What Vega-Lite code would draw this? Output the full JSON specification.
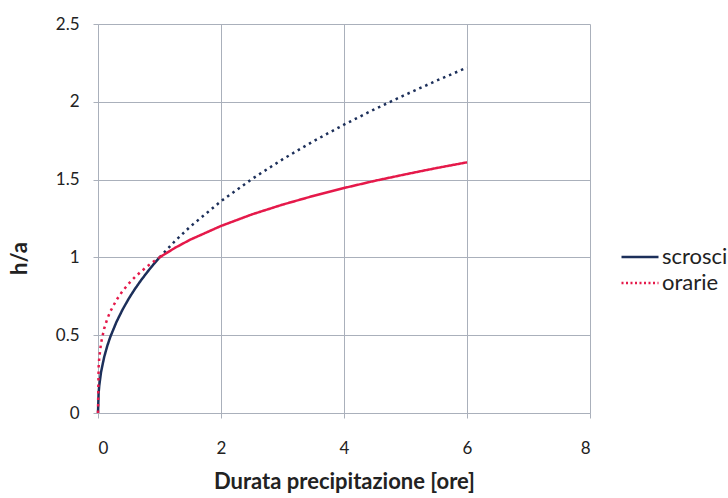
{
  "$schema": "https://vega.github.io/schema/vega-lite/v6.json",
  "width": 492,
  "height": 389,
  "autosize": {"type": "none"},
  "padding": {"left": 98, "top": 24, "right": 138, "bottom": 85},
  "background": "white",
  "config": {
    "view": {"stroke": null},
    "font": "Lato",
    "axis": {
      "gridColor": "#aab0bb",
      "gridWidth": 1,
      "domainColor": "#aab0bb",
      "tickColor": "#aab0bb",
      "tickSize": 5,
      "labelFont": "Lato",
      "labelFontSize": 17,
      "labelColor": "#222222",
      "titleFont": "Lato",
      "titleFontSize": 22,
      "titleFontWeight": "bold",
      "titleColor": "#222222"
    },
    "legend": {
      "labelFont": "Lato",
      "labelFontSize": 22,
      "labelColor": "#222222"
    }
  },
  "data": {
    "values": [
      {"t": 0, "h": 0, "serie": "scrosci", "tratto": "a"},
      {"t": 0.01, "h": 0.129, "serie": "scrosci", "tratto": "a"},
      {"t": 0.02, "h": 0.175, "serie": "scrosci", "tratto": "a"},
      {"t": 0.05, "h": 0.264, "serie": "scrosci", "tratto": "a"},
      {"t": 0.1, "h": 0.359, "serie": "scrosci", "tratto": "a"},
      {"t": 0.15, "h": 0.43, "serie": "scrosci", "tratto": "a"},
      {"t": 0.2, "h": 0.489, "serie": "scrosci", "tratto": "a"},
      {"t": 0.3, "h": 0.585, "serie": "scrosci", "tratto": "a"},
      {"t": 0.4, "h": 0.665, "serie": "scrosci", "tratto": "a"},
      {"t": 0.5, "h": 0.735, "serie": "scrosci", "tratto": "a"},
      {"t": 0.6, "h": 0.797, "serie": "scrosci", "tratto": "a"},
      {"t": 0.7, "h": 0.853, "serie": "scrosci", "tratto": "a"},
      {"t": 0.8, "h": 0.905, "serie": "scrosci", "tratto": "a"},
      {"t": 0.9, "h": 0.954, "serie": "scrosci", "tratto": "a"},
      {"t": 1, "h": 1, "serie": "scrosci", "tratto": "a"},
      {"t": 1, "h": 1, "serie": "scrosci", "tratto": "b"},
      {"t": 1.25, "h": 1.104, "serie": "scrosci", "tratto": "b"},
      {"t": 1.5, "h": 1.198, "serie": "scrosci", "tratto": "b"},
      {"t": 2, "h": 1.361, "serie": "scrosci", "tratto": "b"},
      {"t": 2.5, "h": 1.503, "serie": "scrosci", "tratto": "b"},
      {"t": 3, "h": 1.63, "serie": "scrosci", "tratto": "b"},
      {"t": 3.5, "h": 1.746, "serie": "scrosci", "tratto": "b"},
      {"t": 4, "h": 1.853, "serie": "scrosci", "tratto": "b"},
      {"t": 4.5, "h": 1.953, "serie": "scrosci", "tratto": "b"},
      {"t": 5, "h": 2.046, "serie": "scrosci", "tratto": "b"},
      {"t": 5.5, "h": 2.135, "serie": "scrosci", "tratto": "b"},
      {"t": 6, "h": 2.22, "serie": "scrosci", "tratto": "b"},
      {"t": 0, "h": 0, "serie": "orarie", "tratto": "a"},
      {"t": 0.01, "h": 0.294, "serie": "orarie", "tratto": "a"},
      {"t": 0.02, "h": 0.353, "serie": "orarie", "tratto": "a"},
      {"t": 0.05, "h": 0.451, "serie": "orarie", "tratto": "a"},
      {"t": 0.1, "h": 0.542, "serie": "orarie", "tratto": "a"},
      {"t": 0.15, "h": 0.604, "serie": "orarie", "tratto": "a"},
      {"t": 0.2, "h": 0.652, "serie": "orarie", "tratto": "a"},
      {"t": 0.3, "h": 0.726, "serie": "orarie", "tratto": "a"},
      {"t": 0.4, "h": 0.784, "serie": "orarie", "tratto": "a"},
      {"t": 0.5, "h": 0.832, "serie": "orarie", "tratto": "a"},
      {"t": 0.6, "h": 0.873, "serie": "orarie", "tratto": "a"},
      {"t": 0.7, "h": 0.909, "serie": "orarie", "tratto": "a"},
      {"t": 0.8, "h": 0.942, "serie": "orarie", "tratto": "a"},
      {"t": 0.9, "h": 0.972, "serie": "orarie", "tratto": "a"},
      {"t": 1, "h": 1, "serie": "orarie", "tratto": "a"},
      {"t": 1, "h": 1, "serie": "orarie", "tratto": "b"},
      {"t": 1.25, "h": 1.061, "serie": "orarie", "tratto": "b"},
      {"t": 1.5, "h": 1.114, "serie": "orarie", "tratto": "b"},
      {"t": 2, "h": 1.202, "serie": "orarie", "tratto": "b"},
      {"t": 2.5, "h": 1.276, "serie": "orarie", "tratto": "b"},
      {"t": 3, "h": 1.339, "serie": "orarie", "tratto": "b"},
      {"t": 3.5, "h": 1.395, "serie": "orarie", "tratto": "b"},
      {"t": 4, "h": 1.446, "serie": "orarie", "tratto": "b"},
      {"t": 4.5, "h": 1.492, "serie": "orarie", "tratto": "b"},
      {"t": 5, "h": 1.534, "serie": "orarie", "tratto": "b"},
      {"t": 5.5, "h": 1.574, "serie": "orarie", "tratto": "b"},
      {"t": 6, "h": 1.611, "serie": "orarie", "tratto": "b"}
    ]
  },
  "encoding": {
    "x": {
      "field": "t",
      "type": "quantitative",
      "scale": {"domain": [0, 8], "nice": false},
      "axis": {
        "title": "Durata precipitazione [ore]",
        "values": [0, 2, 4, 6, 8],
        "labelPadding": 22,
        "titleY": 58,
        "titleBaseline": "top"
      }
    },
    "y": {
      "field": "h",
      "type": "quantitative",
      "scale": {"domain": [0, 2.5], "nice": false},
      "axis": {
        "title": "h/a",
        "values": [0, 0.5, 1, 1.5, 2, 2.5],
        "format": "~g",
        "labelPadding": 14,
        "titleX": -72,
        "titleY": 234,
        "titleAngle": -90,
        "titleAlign": "center",
        "titleBaseline": "alphabetic"
      }
    },
    "color": {
      "field": "serie",
      "type": "nominal",
      "scale": {"domain": ["scrosci", "orarie"], "range": ["#1c2f5a", "#e5194a"]},
      "legend": {
        "title": null,
        "orient": "none",
        "legendX": 522,
        "legendY": 222,
        "symbolType": "stroke",
        "symbolSize": 1369,
        "symbolStrokeWidth": 2.5,
        "clipHeight": 22,
        "labelOffset": 2,
        "rowPadding": 4,
        "encode": {
          "symbols": {
            "update": {
              "strokeDash": {"signal": "datum.value === 'orarie' ? [2, 2.5] : [1, 0]"},
              "strokeCap": {"value": "butt"}
            }
          }
        }
      }
    }
  },
  "layer": [
    {
      "transform": [{"filter": "datum.tratto === 'a'"}],
      "mark": {"type": "line", "strokeWidth": 2.5, "strokeCap": "butt"},
      "encoding": {
        "strokeDash": {
          "field": "serie",
          "type": "nominal",
          "scale": {"domain": ["scrosci", "orarie"], "range": [[1, 0], [2.5, 4]]},
          "legend": null
        }
      }
    },
    {
      "transform": [{"filter": "datum.tratto === 'b'"}],
      "mark": {"type": "line", "strokeWidth": 2.5, "strokeCap": "butt"},
      "encoding": {
        "strokeDash": {
          "field": "serie",
          "type": "nominal",
          "scale": {"domain": ["orarie", "scrosci"], "range": [[1, 0], [2.5, 4]]},
          "legend": null
        }
      }
    }
  ],
  "resolve": {"scale": {"strokeDash": "independent"}}
}
